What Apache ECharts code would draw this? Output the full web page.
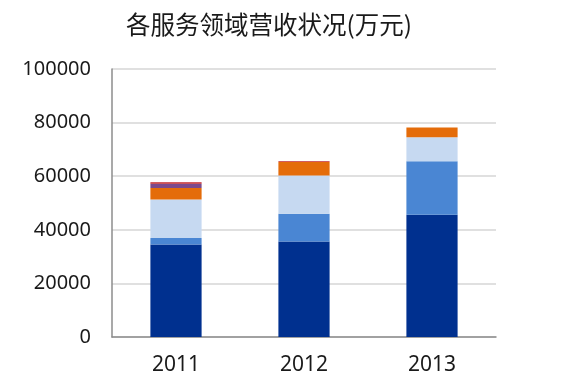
<!DOCTYPE html>
<html>
<head>
<meta charset="utf-8">
<script src="https://cdn.jsdelivr.net/npm/echarts@6/dist/echarts.min.js"></script>
<style>
html,body{margin:0;padding:0;background:#fff;}
#c{width:582px;height:382px;}
</style>
</head>
<body>
<div id="c"></div>
<script>
var title = '各服务领域营收状况(万元)';
var categories = ['2011', '2012', '2013'];
var seriesDark   = [34500, 35600, 45600];
var seriesMedium = [2400, 10400, 20000];
var seriesLight  = [14400, 14300, 8900];
var seriesOrange = [4300, 5000, 3700];
var seriesPurple = [1600, 0, 0];
var seriesRed    = [500, 300, 0];
var yMin = 0, yMax = 100000, yStep = 20000;

var colors = ['#00308f', '#4a86d3', '#c6d9f1', '#e46c0a', '#7b4a8c', '#c0272d'];
var data = [seriesDark, seriesMedium, seriesLight, seriesOrange, seriesPurple, seriesRed];

var chart = echarts.init(document.getElementById('c'), null, {renderer: 'canvas'});
chart.setOption({
  animation: false,
  backgroundColor: '#fff',
  title: {
    text: title,
    left: 264, textAlign: 'center', top: 7,
    textStyle: {fontFamily: 'Noto Sans CJK SC', fontSize: 24.5, fontWeight: 'normal', color: '#1a1a1a'}
  },
  grid: {left: 112, right: 86, top: 69, bottom: 45},
  xAxis: {
    type: 'category',
    data: categories,
    axisLine: {lineStyle: {color: '#8c8c8c', width: 1.5}},
    axisTick: {show: false},
    axisLabel: {fontFamily: 'Noto Sans', fontSize: 21, color: '#1a1a1a', margin: 18}
  },
  yAxis: {
    type: 'value', min: yMin, max: yMax, interval: yStep,
    axisLine: {show: true, lineStyle: {color: '#8c8c8c', width: 1.5}},
    axisTick: {show: false},
    splitLine: {lineStyle: {color: '#d6d6d6', width: 1.5}},
    axisLabel: {fontFamily: 'Noto Sans', fontSize: 20, color: '#1a1a1a', margin: 21,
      formatter: function (v) { return String(v); }}
  },
  series: data.map(function (d, i) {
    return {
      type: 'bar', stack: 'total', data: d, barWidth: '40%',
      itemStyle: {color: colors[i]}
    };
  })
});
</script>
</body>
</html>
